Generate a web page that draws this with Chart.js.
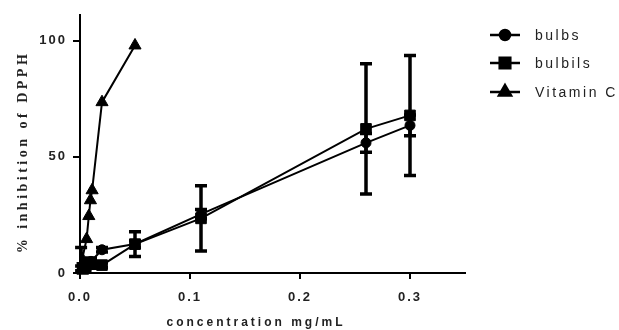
<!DOCTYPE html>
<html>
<head>
<meta charset="utf-8">
<script src="https://cdn.jsdelivr.net/npm/chart.js@4/dist/chart.umd.min.js"></script>
<style>
html,body{margin:0;padding:0;background:#fff;}
#wrap{position:relative;width:619px;height:330px;}
</style>
</head>
<body>
<div id="wrap"><canvas id="c" width="619" height="330"></canvas></div>
<script>
// ---- data ----
const seriesNames = ["bulbs", "bulbils", "Vitamin C"];
const bulbsX   = [0.001, 0.0025, 0.005, 0.01, 0.02, 0.05, 0.11, 0.26, 0.30];
const bulbsY   = [2, 3, 4, 5, 10, 12.5, 25.3, 56, 63.5];
const bulbsErr = [1, 1, 1, 1.5, 1, 1.5, 2, 4, 4.5];
const bulbilsX   = [0.001, 0.0025, 0.005, 0.01, 0.02, 0.05, 0.11, 0.26, 0.30];
const bulbilsY   = [3, 2, 3, 4, 3.4, 12.4, 23.5, 62, 67.8];
const bulbilsErr = [8, 2, 2, 2, 1, 5.3, 14, 28, 25.8];
const vitCX = [0.002, 0.006, 0.008, 0.0095, 0.011, 0.02, 0.05];
const vitCY = [6, 14.6, 24.5, 31.3, 35.6, 73.5, 97.9];
const xTicks = [0, 0.1, 0.2, 0.3];
const yTicks = [0, 50, 100];
const xTitle = "concentration mg/mL";
const yTitle = "% inhibition of DPPH";

const pts = (xs, ys, es) => xs.map((x, i) => ({x: x, y: ys[i], e: es ? es[i] : 0}));
const TXT = "#222";
const styles = [
  {pointStyle: "circle", radius: 5},
  {pointStyle: "rect", radius: 7.5},
  {pointStyle: "triangle", radius: 7}
];

const errorBars = {
  id: "errorBars",
  beforeDatasetsDraw(chart) {
    const ctx = chart.ctx, xs = chart.scales.x, ys = chart.scales.y;
    ctx.save();
    ctx.strokeStyle = "#000";
    ctx.lineWidth = 3.5;
    chart.data.datasets.forEach(ds => {
      ds.data.forEach(p => {
        if (!p.e) return;
        const px = xs.getPixelForValue(p.x);
        const top = ys.getPixelForValue(p.y + p.e);
        const bot = ys.getPixelForValue(Math.max(p.y - p.e, ys.min));
        ctx.beginPath();
        ctx.moveTo(px, top); ctx.lineTo(px, bot);
        ctx.moveTo(px - 6, top); ctx.lineTo(px + 6, top);
        if (p.y - p.e >= ys.min) { ctx.moveTo(px - 6, bot); ctx.lineTo(px + 6, bot); }
        ctx.stroke();
      });
    });
    ctx.restore();
  }
};

const spacing = {
  id: "spacing",
  beforeDraw(chart) { chart.ctx.letterSpacing = "2px"; },
  afterDraw(chart) {
    const ctx = chart.ctx;
    ctx.save();
    ctx.fillStyle = TXT;
    // x title
    ctx.letterSpacing = "3px";
    ctx.font = "bold 12px 'Liberation Sans', Arial, sans-serif";
    ctx.textAlign = "center";
    ctx.textBaseline = "middle";
    ctx.fillText(xTitle, 256, 323);
    // y title
    ctx.save();
    ctx.translate(23, 152);
    ctx.rotate(-Math.PI / 2);
    ctx.letterSpacing = "3.5px";
    ctx.font = "bold 14px 'Liberation Serif', 'Times New Roman', serif";
    ctx.fillText(yTitle, 0, 0);
    ctx.restore();
    // legend
    ctx.letterSpacing = "2.5px";
    ctx.font = "14px 'Liberation Sans', Arial, sans-serif";
    ctx.textAlign = "left";
    const ly = [35, 63, 92];
    seriesNames.forEach((name, i) => {
      ctx.strokeStyle = "#000";
      ctx.lineWidth = 2.5;
      ctx.beginPath();
      ctx.moveTo(490, ly[i]); ctx.lineTo(520, ly[i]); ctx.stroke();
      ctx.fillStyle = "#000";
      Chart.helpers.drawPoint(ctx, {pointStyle: styles[i].pointStyle, radius: styles[i].radius, rotation: 0, borderWidth: 1}, 505, ly[i]);
      ctx.fillStyle = TXT;
      ctx.fillText(name, 535, ly[i] + 1);
    });
    ctx.restore();
  }
};

const mk = (label, data, i) => ({
  label: label,
  data: data,
  showLine: true,
  borderColor: "#000",
  backgroundColor: "#000",
  borderWidth: 2,
  pointStyle: styles[i].pointStyle,
  pointRadius: styles[i].radius,
  pointHoverRadius: styles[i].radius,
  pointBackgroundColor: "#000",
  pointBorderColor: "#000",
  pointBorderWidth: 1,
  tension: 0
});

const tickFont = {family: "'Liberation Sans', Arial, sans-serif", size: 13, weight: "bold"};

new Chart(document.getElementById("c"), {
  type: "scatter",
  data: {
    datasets: [
      mk(seriesNames[0], pts(bulbsX, bulbsY, bulbsErr), 0),
      mk(seriesNames[1], pts(bulbilsX, bulbilsY, bulbilsErr), 1),
      mk(seriesNames[2], pts(vitCX, vitCY), 2)
    ]
  },
  options: {
    responsive: false,
    animation: false,
    events: [],
    layout: {padding: {left: 0, right: 154, top: 15, bottom: 0}},
    plugins: {legend: {display: false}, tooltip: {enabled: false}},
    scales: {
      x: {
        type: "linear", min: 0, max: 0.35,
        afterFit: s => { s.height = 57; },
        afterBuildTicks: s => { s.ticks = xTicks.map(v => ({value: v})); },
        ticks: {includeBounds: false, color: TXT, font: tickFont, padding: 11,
                callback: v => Number(v).toFixed(1)},
        grid: {display: true, drawOnChartArea: false, drawTicks: true, tickLength: 6, color: "#000", lineWidth: 2},
        border: {display: true, color: "#000", width: 2},
        title: {display: false}
      },
      y: {
        type: "linear", min: 0, max: 111,
        afterFit: s => { s.width = 80; },
        afterBuildTicks: s => { s.ticks = yTicks.map(v => ({value: v})); },
        ticks: {includeBounds: false, color: TXT, font: tickFont, padding: 6},
        grid: {display: true, drawOnChartArea: false, drawTicks: true, tickLength: 7, color: "#000", lineWidth: 2},
        border: {display: true, color: "#000", width: 2},
        title: {display: false}
      }
    }
  },
  plugins: [errorBars, spacing]
});
</script>
</body>
</html>
